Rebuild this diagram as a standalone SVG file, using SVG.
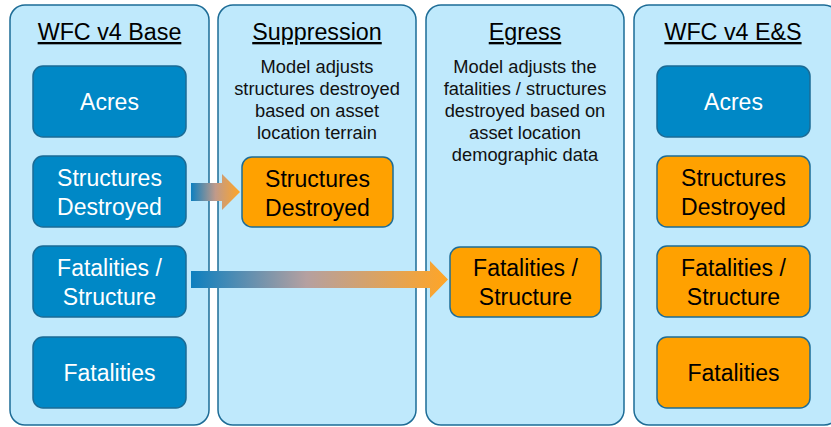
<svg xmlns="http://www.w3.org/2000/svg" width="831" height="427" viewBox="0 0 831 427">
<defs>
<style>
.panel{fill:#bfe9fc;stroke:#1d6c96;stroke-width:1.5}
.blue{fill:#0088c6;stroke:#1b6b95;stroke-width:1.5}
.orange{fill:#ffa100;stroke:#1d6c96;stroke-width:1.5}
text{font-family:"Liberation Sans",Arial,sans-serif;text-anchor:middle}
.hdr{font-size:23.3px;fill:#000;text-decoration:underline}
.desc{font-size:18.3px;fill:#111}
.wt{font-size:23px;fill:#fff}
.bt{font-size:23px;fill:#000}
</style>
<linearGradient id="g1" x1="191" y1="0" x2="240" y2="0" gradientUnits="userSpaceOnUse">
<stop offset="0" stop-color="#0d7fbf"/><stop offset="0.5" stop-color="#c09a8a"/><stop offset="1" stop-color="#ffa526"/>
</linearGradient>
<linearGradient id="g2" x1="191" y1="0" x2="448" y2="0" gradientUnits="userSpaceOnUse">
<stop offset="0" stop-color="#0d7fbf"/><stop offset="0.45" stop-color="#b5a0a0"/><stop offset="1" stop-color="#ffa526"/>
</linearGradient>
</defs>
<g id="panel-base"><rect class="panel" x="10" y="5" width="199" height="420" rx="15"/><text class="hdr" x="109.5" y="40">WFC v4 Base</text></g>
<g id="panel-suppression"><rect class="panel" x="218" y="5" width="198" height="420" rx="15"/><text class="hdr" x="317" y="40">Suppression</text>
<text class="desc" x="317" y="73">Model adjusts</text><text class="desc" x="317" y="95">structures destroyed</text><text class="desc" x="317" y="117">based on asset</text><text class="desc" x="317" y="139">location terrain</text></g>
<g id="panel-egress"><rect class="panel" x="426" y="5" width="198" height="420" rx="15"/><text class="hdr" x="525" y="40">Egress</text>
<text class="desc" x="525" y="73">Model adjusts the</text><text class="desc" x="525" y="95">fatalities / structures</text><text class="desc" x="525" y="117">destroyed based on</text><text class="desc" x="525" y="139">asset location</text><text class="desc" x="525" y="161">demographic data</text></g>
<g id="panel-es"><rect class="panel" x="634" y="5" width="205" height="420" rx="15"/><text class="hdr" x="733" y="40">WFC v4 E&amp;S</text></g>
<g id="connectors">
<polygon fill="url(#g1)" points="191,183 222,183 222,174 240,192 222,210 222,201 191,201"/>
<polygon fill="url(#g2)" points="191,271 430,271 430,261 448,279.5 430,298 430,288 191,288"/>
</g>
<g id="base-acres"><rect class="blue" x="33" y="66" width="153" height="71" rx="10"/><text class="wt" x="109.5" y="110">Acres</text></g>
<g id="base-structures"><rect class="blue" x="33" y="156" width="153" height="71" rx="10"/><text class="wt" x="109.5" y="186">Structures</text><text class="wt" x="109.5" y="215">Destroyed</text></g>
<g id="base-fps"><rect class="blue" x="33" y="246" width="153" height="71" rx="10"/><text class="wt" x="109.5" y="276">Fatalities /</text><text class="wt" x="109.5" y="305">Structure</text></g>
<g id="base-fatalities"><rect class="blue" x="33" y="337" width="153" height="71" rx="10"/><text class="wt" x="109.5" y="381">Fatalities</text></g>
<g id="supp-structures"><rect class="orange" x="242" y="157" width="151" height="70" rx="10"/><text class="bt" x="317.5" y="187">Structures</text><text class="bt" x="317.5" y="216">Destroyed</text></g>
<g id="egress-fps"><rect class="orange" x="450" y="247" width="151" height="70" rx="10"/><text class="bt" x="525.5" y="276">Fatalities /</text><text class="bt" x="525.5" y="305">Structure</text></g>
<g id="es-acres"><rect class="blue" x="657" y="66" width="153" height="71" rx="10"/><text class="wt" x="733.5" y="110">Acres</text></g>
<g id="es-structures"><rect class="orange" x="657" y="156" width="153" height="71" rx="10"/><text class="bt" x="733.5" y="186">Structures</text><text class="bt" x="733.5" y="215">Destroyed</text></g>
<g id="es-fps"><rect class="orange" x="657" y="246" width="153" height="71" rx="10"/><text class="bt" x="733.5" y="276">Fatalities /</text><text class="bt" x="733.5" y="305">Structure</text></g>
<g id="es-fatalities"><rect class="orange" x="657" y="337" width="153" height="71" rx="10"/><text class="bt" x="733.5" y="381">Fatalities</text></g>
</svg>
